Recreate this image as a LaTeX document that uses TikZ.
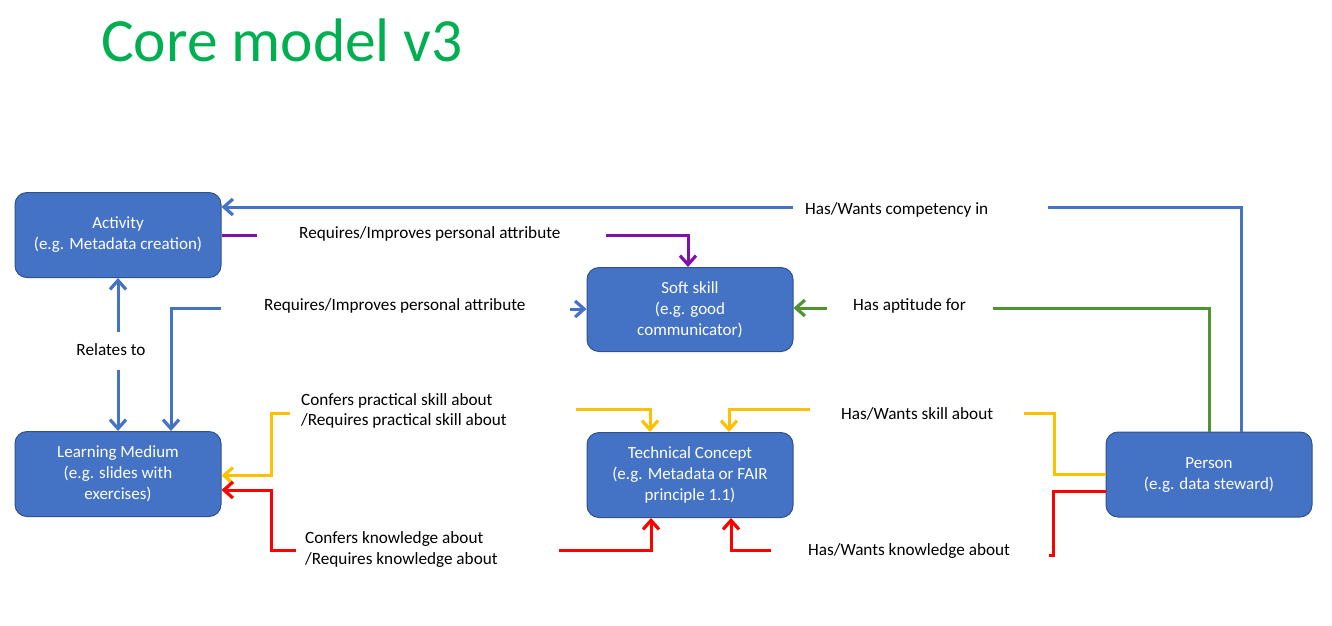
\documentclass[tikz,border=0pt]{standalone}
\usepackage{fontspec}
\setmainfont{Carlito}
\usetikzlibrary{arrows.meta}
\definecolor{boxblue}{HTML}{4472C4}
\definecolor{boxedge}{HTML}{2F528F}
\definecolor{linkpurple}{HTML}{7F10A8}
\definecolor{linkgreen}{HTML}{4F9430}
\definecolor{linkyellow}{HTML}{FFC000}
\definecolor{linkred}{HTML}{FF0000}
\definecolor{titlegreen}{HTML}{00B050}
\tikzset{
  entity/.style={draw=boxedge, line width=1pt, fill=boxblue, rounded corners=12pt,
    minimum width=206pt, minimum height=85pt, text=white, align=center,
    font=\fontsize{17}{21}\selectfont},
  lbl/.style={anchor=west, inner sep=0pt, text=black, align=left,
    font=\fontsize{17.2}{20.5}\selectfont},
  link/.style={line width=3pt},
  tip/.style={-{Straight Barb[length=9pt,width=16pt,line width=3.2pt]}},
  bluelink/.style={link, draw=boxblue},
  purplelink/.style={link, draw=linkpurple},
  greenlink/.style={link, draw=linkgreen},
  yellowlink/.style={link, draw=linkyellow},
  redlink/.style={link, draw=linkred},
}
\begin{document}
\begin{tikzpicture}[x=1pt,y=-1pt]
\useasboundingbox (0,0) rectangle (1332,625);

% title
\node[anchor=base west, inner sep=0pt, text=titlegreen,
  font=\fontsize{61.5}{64}\selectfont] (title) at (101,61) {Core model v3};

% entities
\node[entity] (act)  at (118,235) {Activity\\(e.g. Metadata creation)};
\node[entity, minimum height=84pt] (soft) at (690,309.5) {Soft skill\\(e.g. good\\communicator)};
\node[entity] (lm)   at (118,474) {Learning Medium\\(e.g. slides with\\exercises)};
\node[entity] (tc)   at (690,475) {Technical Concept\\(e.g. Metadata or FAIR\\principle 1.1)};
\node[entity] (per)  at (1209,474.5) {Person\\(e.g. data steward)};

% free ends of the split connectors
\coordinate (compA) at (793,207);
\coordinate (compB) at (1048,207);
\coordinate (purA)  at (257,235);
\coordinate (purB)  at (606,235);
\coordinate (attrA) at (221,308);
\coordinate (attrB) at (570,309);
\coordinate (aptA)  at (993,308);
\coordinate (aptB)  at (827,308);
\coordinate (relA)  at (118,332);
\coordinate (relB)  at (118,370);
\coordinate (prA)   at (290,413);
\coordinate (prB)   at (576,409);
\coordinate (skA)   at (1024,413);
\coordinate (skB)   at (810,409);
\coordinate (knA)   at (296,550);
\coordinate (knB)   at (559,550);
\coordinate (hkA)   at (1049,555);
\coordinate (hkB)   at (771,550);

% Has/Wants competency in
\draw[bluelink] ([xshift=32pt]per.north) |- (compB);
\draw[bluelink, tip] (compA) -- (act.east |- compA);
\node[lbl] (lcomp) at (805,209.5) {Has/Wants competency in};

% Requires/Improves personal attribute (Activity -> Soft skill)
\draw[purplelink] (act.east) -- (purA);
\draw[purplelink, tip] (purB) -| ([xshift=-2pt]soft.north);
\node[lbl] (lpur) at (299,233.5) {Requires/Improves personal attribute};

% Requires/Improves personal attribute (Learning Medium -> Soft skill)
\draw[bluelink, tip] (attrA) -| ([xshift=53pt]lm.north);
\draw[bluelink, tip] (attrB) -- (soft.west |- attrB);
\node[lbl] (lattr) at (264,305.5) {Requires/Improves personal attribute};

% Has aptitude for
\draw[greenlink] (per.north) |- (aptA);
\draw[greenlink, tip] (aptB) -- (soft.east |- aptB);
\node[lbl] (lapt) at (853,305.5) {Has aptitude for};

% Relates to
\draw[bluelink, tip] (relA) -- (act.south);
\draw[bluelink, tip] (relB) -- (lm.north);
\node[inner sep=0pt, font=\fontsize{17.2}{20}\selectfont] (lrel) at (111,349.5) {Relates to};

% Confers / Requires practical skill about
\draw[yellowlink, tip] (prA) -- (271,413) |- ([yshift=-1.5pt]lm.east);
\draw[yellowlink, tip] (prB) -| ([xshift=-40pt]tc.north);
\node[lbl] (lpr) at (301,411) {Confers practical skill about\\/Requires practical skill about};

% Has/Wants skill about
\draw[yellowlink] (per.west) -- (1054,474.5) |- (skA);
\draw[yellowlink, tip] (skB) -| ([xshift=39pt]tc.north);
\node[lbl] (lsk) at (841,413.5) {Has/Wants skill about};

% Confers / Requires knowledge about
\draw[redlink, tip] (knA) -- (271,550) |- ([yshift=-16pt]lm.east);
\draw[redlink, tip] (knB) -| ([xshift=-39pt]tc.south);
\node[lbl] (lkn) at (305,549.5) {Confers knowledge about\\/Requires knowledge about};

% Has/Wants knowledge about
\draw[redlink] ([yshift=-16.5pt]per.west) -- (1053,491) |- (hkA);
\draw[redlink, tip] (hkB) -| ([xshift=41pt]tc.south);
\node[lbl] (lhk) at (808,550.5) {Has/Wants knowledge about};
\end{tikzpicture}
\end{document}
